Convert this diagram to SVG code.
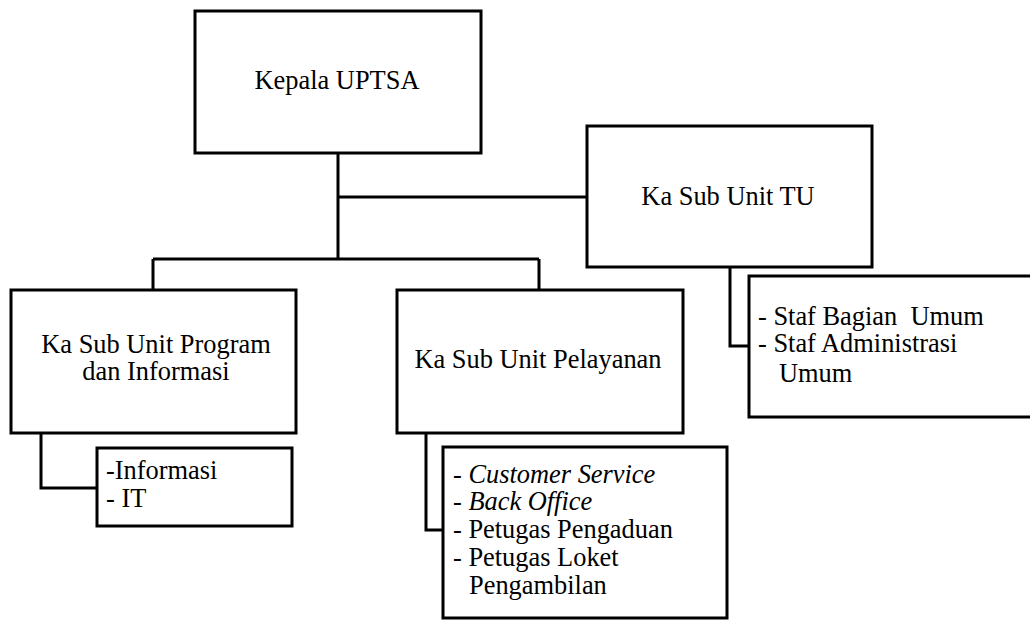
<svg xmlns="http://www.w3.org/2000/svg" width="1030" height="644" viewBox="0 0 1030 644">
<style>
.box{fill:#fff;stroke:#000;stroke-width:3}
.ln{fill:none;stroke:#000;stroke-width:3}
.t text{font-family:Liberation Serif, serif;font-size:26.4px;fill:#000}
.c{text-anchor:middle}
.i{font-style:italic}
</style>
<rect width="1030" height="644" fill="#fff"/>
<g id="connectors">
<path class="ln" d="M338 153V259M338 197H587M153 259H539M153 259V290M539 259V290"/>
<path class="ln" d="M41 433V488H97"/>
<path class="ln" d="M426 433V530H443"/>
<path class="ln" d="M730 267V346H749"/>
</g>
<g class="t">
<g id="kepala">
<rect class="box" x="195" y="11" width="286" height="142"/>
<text class="c" x="337" y="89">Kepala UPTSA</text>
</g>
<g id="tu">
<rect class="box" x="587" y="126" width="285" height="141"/>
<text class="c" x="728" y="205">Ka Sub Unit TU</text>
</g>
<g id="program">
<rect class="box" x="11" y="290" width="285" height="143"/>
<text class="c" x="156" y="353">Ka Sub Unit Program</text>
<text class="c" x="156" y="380">dan Informasi</text>
</g>
<g id="pelayanan">
<rect class="box" x="397" y="290" width="286" height="143"/>
<text class="c" x="538" y="368">Ka Sub Unit Pelayanan</text>
</g>
<g id="program-staff">
<rect class="box" x="97" y="448" width="195" height="78"/>
<text x="106" y="479">-Informasi</text>
<text x="106" y="507">- IT</text>
</g>
<g id="pelayanan-staff">
<rect class="box" x="443" y="447" width="284" height="171"/>
<text x="453" y="483">- <tspan class="i">Customer Service</tspan></text>
<text x="453" y="510">- <tspan class="i">Back Office</tspan></text>
<text x="453" y="538">- Petugas Pengaduan</text>
<text x="453" y="566">- Petugas Loket</text>
<text x="469" y="594">Pengambilan</text>
</g>
<g id="tu-staff">
<rect class="box" x="749" y="276" width="300" height="141"/>
<text x="758" y="325">- Staf Bagian&#160; Umum</text>
<text x="758" y="352">- Staf Administrasi</text>
<text x="779" y="382">Umum</text>
</g>
</g>
</svg>
